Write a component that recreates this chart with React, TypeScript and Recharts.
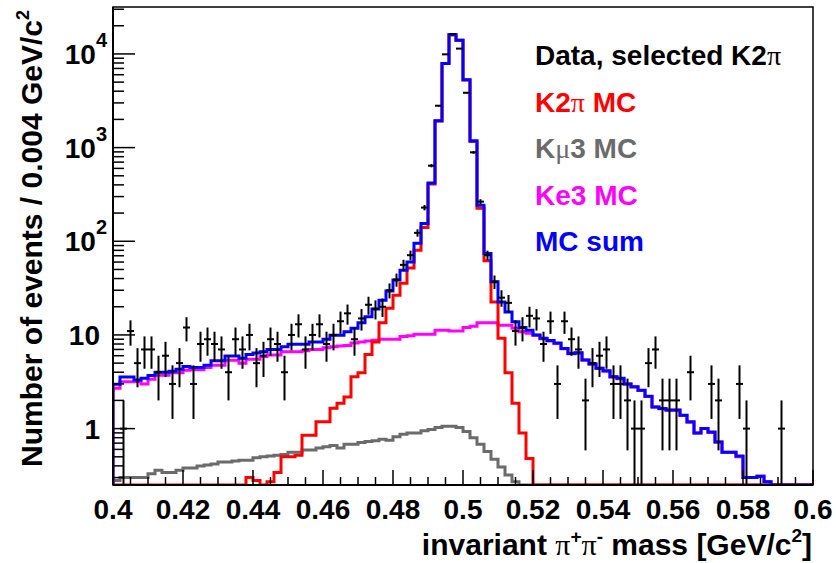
import React from 'react'
import { ComposedChart, Line, Scatter, ErrorBar, XAxis, YAxis, ReferenceArea } from 'recharts'

// 100 bins between 0.4 and 0.6 GeV/c^2
const binLow = 0.4
const binWidth = 0.002
const yMin = 0.25
const yMax = 31700

const k2piMC = [
  0, 0, 0, 0, 0, 0, 0, 0, 0, 0,
  0, 0, 0, 0, 0, 0, 0, 0, 0, 0.3,
  0.28, 0, 0.27, 0.34, 0.5, 0.5, 0.52, 0.85, 0.85, 1.18,
  1.18, 1.65, 1.87, 2.18, 3.57, 3.95, 6.2, 8.4, 13.5, 19.3,
  26.6, 35.6, 51.7, 80, 140, 408, 1925, 7885, 15985, 13985,
  5285, 1165, 225, 62, 22.5, 9.2, 3.95, 1.87, 0.9, 0.48,
  0, 0, 0, 0, 0, 0, 0, 0, 0, 0,
  0, 0, 0, 0, 0, 0, 0, 0, 0, 0,
  0, 0, 0, 0, 0, 0, 0, 0, 0, 0,
  0, 0, 0, 0, 0, 0, 0, 0, 0, 0,
]

const kmu3MC = [
  0.28, 0.3, 0.3, 0.3, 0.3, 0.33, 0.36, 0.34, 0.34, 0.36,
  0.38, 0.38, 0.4, 0.41, 0.42, 0.44, 0.44, 0.45, 0.46, 0.46,
  0.49, 0.5, 0.51, 0.52, 0.53, 0.56, 0.56, 0.59, 0.59, 0.62,
  0.64, 0.66, 0.62, 0.68, 0.68, 0.71, 0.73, 0.74, 0.77, 0.75,
  0.82, 0.87, 0.9, 0.9, 0.95, 0.98, 1.03, 1.06, 1.06, 1.03,
  0.93, 0.8, 0.68, 0.57, 0.47, 0.39, 0.32, 0.27, 0, 0,
  0, 0, 0, 0, 0, 0, 0, 0, 0, 0,
  0, 0, 0, 0, 0, 0, 0, 0, 0, 0,
  0, 0, 0, 0, 0, 0, 0, 0, 0, 0,
  0, 0, 0, 0, 0, 0, 0, 0, 0, 0,
]

const ke3MC = [
  2.7, 3.16, 3.16, 3.16, 3.0, 3.37, 3.72, 3.72, 3.95, 3.95,
  4.2, 4.25, 4.25, 4.5, 4.75, 4.75, 5.37, 5.37, 5.0, 5.5,
  5.5, 5.9, 6.1, 6.1, 6.6, 6.6, 6.6, 6.8, 7.0, 7.0,
  7.3, 7.5, 7.6, 7.7, 8.2, 8.4, 8.6, 8.8, 9.0, 9.0,
  9.0, 9.6, 9.8, 10.2, 10.2, 10.2, 11.2, 11.2, 11.0, 11.0,
  12.0, 12.4, 13.5, 13.5, 13.5, 12.7, 12.7, 11.8, 10.8, 10.4,
  9.9, 9.1, 8.6, 8.1, 7.1, 6.3, 6.4, 5.4, 4.9, 4.4,
  4.1, 3.55, 3.4, 3.0, 2.78, 2.55, 2.2, 1.7, 1.63, 1.57,
  1.57, 1.38, 1.17, 0.9, 1.0, 0.91, 0.72, 0.56, 0.56, 0.5,
  0.3, 0.3, 0.31, 0.27, 0, 0, 0, 0, 0, 0,
]

const mcSum = [
  2.98, 3.55, 3.55, 3.3, 3.45, 3.7, 4.0, 4.0, 4.1, 4.3,
  4.6, 4.5, 4.5, 4.75, 5.3, 5.3, 5.95, 5.95, 5.65, 6.2,
  6.4, 6.6, 7.0, 7.0, 7.5, 7.95, 7.95, 7.95, 8.4, 8.4,
  9.0, 9.9, 9.9, 10.8, 11.8, 13.5, 15.6, 18.9, 23.5, 29.5,
  38.5, 49, 60, 95, 155, 420, 1940, 7900, 16000, 14000,
  5300, 1180, 243, 74, 37, 22.5, 17.6, 13.8, 12.0, 11.2,
  10, 9.2, 8.7, 8.2, 7.15, 6.35, 6.45, 5.4, 4.9, 4.4,
  4.15, 3.57, 3.45, 3.0, 2.79, 2.57, 2.22, 1.7, 1.64, 1.58,
  1.58, 1.39, 1.18, 0.9, 1.0, 0.92, 0.72, 0.56, 0.56, 0.51,
  0.3, 0.3, 0.31, 0.27, 0, 0, 0, 0, 0, 0,
]

const dataCounts = [
  0, 1, 11, 5, 7, 7, 4, 6, 3, 5,
  12, 3, 8, 9, 8, 7, 4, 9, 7, 10,
  5, 6, 9, 8, 4, 10, 13, 7, 10, 13,
  8, 10, 14, 17, 9, 15, 21, 19, 20, 30,
  39, 56, 71, 123, 229, 641, 2800, 9900, 16300, 11400,
  3850, 890, 265, 71, 37, 25, 22, 11, 12, 16,
  15, 8, 14, 3, 14, 9, 7, 2, 5, 6,
  7, 3, 3, 2, 1, 1, 5, 7, 2, 2,
  2, 0, 4, 0, 0, 3, 2, 0, 0, 3,
  1, 0, 0, 0, 0, 1, 0, 0, 0, 0,
]

const xLabels = ['0.4', '0.42', '0.44', '0.46', '0.48', '0.5', '0.52', '0.54', '0.56', '0.58', '0.6']
const yDecades = [
  { value: 1, base: '1', exp: '' },
  { value: 10, base: '10', exp: '' },
  { value: 100, base: '10', exp: '2' },
  { value: 1000, base: '10', exp: '3' },
  { value: 10000, base: '10', exp: '4' },
]
const legendNames = ['Data, selected K2π', 'K2π MC', 'Kμ3 MC', 'Ke3 MC', 'MC sum']
const legendColors = ['#000000', '#ff0000', '#6b6b6b', '#ff00ff', '#0000ff']

const FONT = '"Liberation Sans", Arial, Helvetica, sans-serif'
const GREEK = '"Liberation Serif", "Times New Roman", serif'

const floorZero = (v: number) => (v > 0 ? v : yMin)

const histRows = [
  { x: binLow, k2pi: yMin, kmu3: yMin, ke3: yMin, sum: yMin },
  ...Array.from({ length: 101 }, (_, i) => {
    const j = Math.min(i, 99)
    return {
      x: +(binLow + i * binWidth).toFixed(4),
      k2pi: floorZero(k2piMC[j]),
      kmu3: floorZero(kmu3MC[j]),
      ke3: floorZero(ke3MC[j]),
      sum: floorZero(mcSum[j]),
    }
  }),
]

const dataPoints = dataCounts.flatMap((n, i) =>
  n > 0
    ? [{
        x: binLow + (i + 0.5) * binWidth,
        y: n,
        ex: binWidth / 2,
        ey: [n - Math.max(n - Math.sqrt(n), yMin), Math.sqrt(n)],
      }]
    : []
)

const xTicks = Array.from({ length: 41 }, (_, i) => +(0.4 + i * 0.005).toFixed(3))
const yTicks: number[] = []
for (const d of [0.1, 1, 10, 100, 1000, 10000]) {
  for (let k = 1; k <= 9; k++) {
    const v = +(k * d).toPrecision(3)
    if (v >= yMin && v <= yMax) yTicks.push(v)
  }
}

function withGreek(text: string) {
  return text.split(/([πμ])/).filter(Boolean).map((s, i) =>
    /[πμ]/.test(s)
      ? <tspan key={i} fontFamily={GREEK} fontWeight="normal">{s}</tspan>
      : <tspan key={i}>{s}</tspan>
  )
}

function XTick(props: any) {
  const { x, y, payload } = props
  const idx = Math.round((payload.value - 0.4) / 0.005)
  const major = idx % 4 === 0
  return (
    <g>
      <line x1={x} x2={x} y1={y} y2={y - (major ? 15 : 8)} stroke="#000" strokeWidth={1.5} />
      {major && (
        <text x={x} y={y + 34} textAnchor="middle" fontFamily={FONT} fontWeight="bold" fontSize={28} fill="#000">
          {xLabels[idx / 4]}
        </text>
      )}
    </g>
  )
}

function YTick(props: any) {
  const { x, y, payload } = props
  const dec = yDecades.find((d) => Math.abs(d.value - payload.value) < 1e-6)
  return (
    <g>
      <line x1={x} x2={x + (dec ? 22 : 11)} y1={y} y2={y} stroke="#000" strokeWidth={1.5} />
      {dec && (
        <text x={dec.exp ? x - 6 : x - 13} y={y + 10} textAnchor="end" fontFamily={FONT} fontWeight="bold" fontSize={28} fill="#000">
          {dec.base}
          {dec.exp && <tspan dy={-17} fontSize={20}>{dec.exp}</tspan>}
        </text>
      )}
    </g>
  )
}

const noMarker = () => <g />

export default function App() {
  return (
    <div style={{ position: 'absolute', left: 0, top: 0, width: 836, height: 563, background: '#fff' }}>
      <ComposedChart width={836} height={563} data={histRows} margin={{ top: 7, right: 23, bottom: 0, left: 0 }}>
        <XAxis
          dataKey="x"
          type="number"
          domain={[0.4, 0.6]}
          ticks={xTicks}
          interval={0}
          allowDataOverflow
          height={78}
          tickSize={0}
          tickMargin={0}
          tickLine={false}
          tick={<XTick />}
          axisLine={{ stroke: '#000', strokeWidth: 2 }}
        />
        <YAxis
          type="number"
          scale="log"
          domain={[yMin, yMax]}
          ticks={yTicks}
          interval={0}
          allowDataOverflow
          width={113}
          tickSize={0}
          tickMargin={0}
          tickLine={false}
          tick={<YTick />}
          axisLine={{ stroke: '#000', strokeWidth: 2 }}
        />
        <Line type="stepAfter" dataKey="kmu3" name="Kμ3 MC" stroke="#6b6b6b" strokeWidth={3} dot={false} isAnimationActive={false} />
        <Line type="stepAfter" dataKey="ke3" name="Ke3 MC" stroke="#ff00ff" strokeWidth={3} dot={false} isAnimationActive={false} />
        <Line type="stepAfter" dataKey="k2pi" name="K2π MC" stroke="#ff0000" strokeWidth={3} dot={false} isAnimationActive={false} />
        <Line type="stepAfter" dataKey="sum" name="MC sum" stroke="#0000ff" strokeWidth={3} dot={false} isAnimationActive={false} />
        <Scatter data={dataPoints} dataKey="y" name="Data, selected K2π" shape={noMarker} isAnimationActive={false}>
          <ErrorBar dataKey="ey" direction="y" width={0} stroke="#000" strokeWidth={2} />
          <ErrorBar dataKey="ex" direction="x" width={0} stroke="#000" strokeWidth={2} />
        </Scatter>
        <ReferenceArea x1={0.4} x2={0.6} y1={yMin} y2={yMax} fill="none" stroke="#000" strokeWidth={1.5} />
      </ComposedChart>
      <svg width={836} height={563} style={{ position: 'absolute', left: 0, top: 0, pointerEvents: 'none' }}>
        <g fontFamily={FONT} fontWeight="bold" fontSize={28}>
          {legendNames.map((name, i) => (
            <text key={name} x={535} y={65 + i * 46.5} fill={legendColors[i]}>
              {withGreek(name)}
            </text>
          ))}
        </g>
        <text x={812} y={555} textAnchor="end" fontFamily={FONT} fontWeight="bold" fontSize={30} fill="#000">
          {'invariant '}
          <tspan fontFamily={GREEK} fontWeight="normal">π</tspan>
          <tspan dy={-12} fontSize={19}>+</tspan>
          <tspan dy={12} fontFamily={GREEK} fontWeight="normal">π</tspan>
          <tspan dy={-12} fontSize={19}>-</tspan>
          <tspan dy={12}>{' mass [GeV/c'}</tspan>
          <tspan dy={-13} fontSize={19}>2</tspan>
          <tspan dy={13}>]</tspan>
        </text>
        <text transform="rotate(-90)" x={-10} y={42} textAnchor="end" fontFamily={FONT} fontWeight="bold" fontSize={30} fill="#000">
          {'Number of events / 0.004 GeV/c'}
          <tspan dy={-13} fontSize={18}>2</tspan>
        </text>
      </svg>
    </div>
  )
}
